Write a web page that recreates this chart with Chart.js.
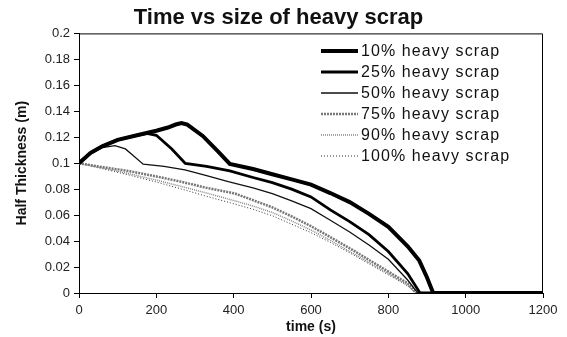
<!DOCTYPE html>
<html>
<head>
<meta charset="utf-8">
<script src="https://cdn.jsdelivr.net/npm/chart.js@4/dist/chart.umd.min.js"></script>
<style>
  body { margin: 0; background: #fff; }
  #chart { display: block; }
</style>
</head>
<body>
<canvas id="chart" width="567" height="337"></canvas>
<script>
// series names
var seriesNames = ['10% heavy scrap', '25% heavy scrap', '50% heavy scrap',
                   '75% heavy scrap', '90% heavy scrap', '100% heavy scrap'];

// time (s) and half thickness (m) for each curve
var t10 = [0, 30, 60, 100, 150, 200, 230, 250, 265, 280, 320, 360, 390, 450, 500, 550, 600, 650, 700, 750, 800, 850, 880, 900, 916, 1200];
var h10 = [0.1, 0.108, 0.113, 0.118, 0.1215, 0.125, 0.1275, 0.1298, 0.131, 0.1297, 0.121, 0.109, 0.0995, 0.0955, 0.0915, 0.0875, 0.0835, 0.077, 0.070, 0.061, 0.051, 0.036, 0.025, 0.012, 0, 0];

var t25 = [0, 30, 60, 100, 150, 175, 200, 240, 275, 330, 390, 450, 500, 550, 600, 650, 700, 750, 800, 850, 882, 1200];
var h25 = [0.1, 0.108, 0.113, 0.118, 0.1215, 0.123, 0.1215, 0.111, 0.0998, 0.0975, 0.094, 0.089, 0.085, 0.080, 0.074, 0.064, 0.055, 0.045, 0.032, 0.015, 0, 0];

var t50 = [0, 30, 60, 93, 120, 140, 166, 220, 274, 330, 386, 450, 500, 550, 600, 650, 700, 750, 800, 850, 876, 1200];
var h50 = [0.1, 0.107, 0.112, 0.1135, 0.111, 0.106, 0.0992, 0.0975, 0.0948, 0.0905, 0.0858, 0.081, 0.0765, 0.071, 0.065, 0.056, 0.047, 0.037, 0.026, 0.010, 0, 0];

var t75 = [0, 50, 128, 200, 266, 330, 403, 450, 500, 550, 600, 650, 700, 750, 800, 830, 850, 873, 1200];
var h75 = [0.1, 0.0975, 0.094, 0.0898, 0.0856, 0.081, 0.0767, 0.0715, 0.066, 0.059, 0.0515, 0.043, 0.0345, 0.0255, 0.0165, 0.011, 0.0075, 0, 0];

var t90 = [0, 50, 128, 200, 266, 330, 403, 450, 500, 550, 600, 650, 700, 750, 800, 830, 850, 870, 1200];
var h90 = [0.1, 0.097, 0.092, 0.087, 0.082, 0.077, 0.071, 0.067, 0.062, 0.0555, 0.0485, 0.0405, 0.032, 0.0235, 0.015, 0.0095, 0.006, 0, 0];

var t100 = [0, 50, 128, 200, 266, 330, 403, 450, 500, 550, 600, 650, 700, 750, 800, 830, 850, 870, 1200];
var h100 = [0.1, 0.0965, 0.091, 0.0855, 0.080, 0.0745, 0.0685, 0.0645, 0.0595, 0.053, 0.0465, 0.039, 0.031, 0.0225, 0.014, 0.009, 0.0055, 0, 0];

function pts(t, h) {
    return t.map(function(x, i) { return { x: x, y: h[i] }; });
}

var FONT = 'Liberation Sans, Arial, sans-serif';

var styles = [
    { color: '#000', width: 4, dash: [] },
    { color: '#000', width: 2.8, dash: [] },
    { color: '#111', width: 1.3, dash: [] },
    { color: '#777', width: 2.5, dash: [2, 1] },
    { color: '#888', width: 1.5, dash: [1, 1] },
    { color: '#333', width: 1, dash: [1, 2] }
];
var series = [pts(t10, h10), pts(t25, h25), pts(t50, h50), pts(t75, h75), pts(t90, h90), pts(t100, h100)];

// plot frame + legend inside the plot
var framePlugin = {
    id: 'frame',
    afterDraw: function(chart) {
        var ctx = chart.ctx, a = chart.chartArea;
        ctx.save();
        ctx.strokeStyle = '#000';
        ctx.lineWidth = 1;
        ctx.beginPath();
        ctx.moveTo(a.left, a.top + 0.5);
        ctx.lineTo(a.right - 0.5, a.top + 0.5);
        ctx.lineTo(a.right - 0.5, a.bottom);
        ctx.stroke();

        // legend
        ctx.font = '16px ' + FONT;
        if ('letterSpacing' in ctx) ctx.letterSpacing = '1.1px';
        ctx.textBaseline = 'middle';
        ctx.fillStyle = '#111';
        chart.data.datasets.forEach(function(ds, i) {
            var y = 51 + i * 21;
            ctx.beginPath();
            ctx.strokeStyle = ds.borderColor;
            ctx.lineWidth = ds.borderWidth;
            ctx.setLineDash(ds.borderDash);
            ctx.moveTo(321, y);
            ctx.lineTo(358, y);
            ctx.stroke();
            ctx.setLineDash([]);
            ctx.fillText(ds.label, 361, y + 1);
        });
        ctx.restore();
    }
};

new Chart(document.getElementById('chart').getContext('2d'), {
    type: 'line',
    data: {
        datasets: series.map(function(d, i) {
            return {
                label: seriesNames[i],
                data: d,
                borderColor: styles[i].color,
                borderWidth: styles[i].width,
                borderDash: styles[i].dash,
                pointRadius: 0,
                tension: 0,
                fill: false
            };
        })
    },
    options: {
        responsive: false,
        animation: false,
        devicePixelRatio: 1,
        layout: { padding: { left: 14, right: 24, top: 0, bottom: 1 } },
        plugins: {
            legend: { display: false },
            tooltip: { enabled: false },
            title: {
                display: true,
                text: 'Time vs size of heavy scrap',
                color: '#111',
                font: { family: FONT, size: 22, weight: 'bold' },
                padding: { top: 5, bottom: 2 }
            }
        },
        scales: {
            x: {
                type: 'linear',
                min: 0,
                max: 1200,
                afterFit: function(s) { s.height = 43; },
                ticks: {
                    stepSize: 200,
                    color: '#222',
                    font: { family: FONT, size: 13 },
                    padding: 5,
                    maxRotation: 0,
                    callback: function(v) { return String(v); }
                },
                grid: { drawOnChartArea: false, drawTicks: true, tickLength: 5, color: '#000' },
                border: { color: '#000', width: 1 },
                title: { display: true, text: 'time (s)', color: '#111', font: { family: FONT, size: 14, weight: 'bold' }, padding: 0 }
            },
            y: {
                min: 0,
                max: 0.2,
                afterFit: function(s) { s.width = 65; },
                ticks: {
                    stepSize: 0.02,
                    color: '#222',
                    font: { family: FONT, size: 13 },
                    padding: 4,
                    callback: function(v) { return String(+v.toFixed(2)); }
                },
                grid: { drawOnChartArea: false, drawTicks: true, tickLength: 5, color: '#000' },
                border: { color: '#000', width: 1 },
                title: { display: true, text: 'Half Thickness (m)', color: '#111', font: { family: FONT, size: 14, weight: 'bold' }, padding: 0 }
            }
        }
    },
    plugins: [framePlugin]
});
</script>
</body>
</html>
